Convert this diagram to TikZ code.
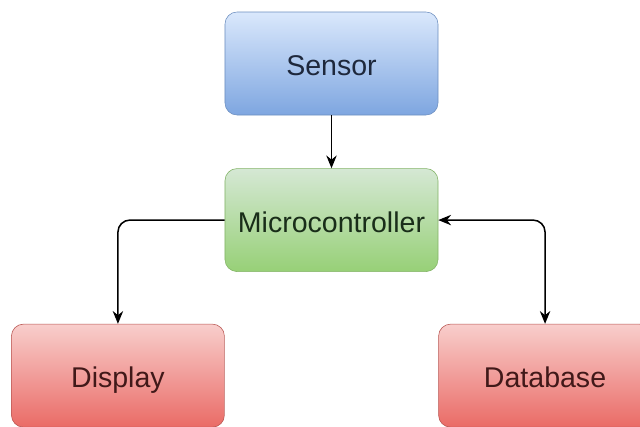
\documentclass[tikz,border=0pt]{standalone}
\usepackage{fontspec}
\setmainfont{Liberation Sans}
\usepackage{tikz}
\usetikzlibrary{positioning}
\usetikzlibrary{arrows.meta}
\definecolor{bluetxt}{RGB}{30, 40, 60}
\definecolor{greentxt}{RGB}{25, 45, 25}
\definecolor{redtxt}{RGB}{65, 25, 25}
\definecolor{bluetop}{RGB}{218, 232, 252}
\definecolor{bluebot}{RGB}{126, 166, 224}
\definecolor{blueline}{RGB}{108, 142, 191}
\definecolor{greentop}{RGB}{213, 232, 212}
\definecolor{greenbot}{RGB}{151, 208, 119}
\definecolor{greenline}{RGB}{130, 179, 102}
\definecolor{redtop}{RGB}{248, 206, 204}
\definecolor{redbot}{RGB}{234, 107, 102}
\definecolor{redline}{RGB}{184, 84, 80}
\tikzset{
  block/.style={rectangle, rounded corners=0.3cm, minimum width=5.325cm,
    minimum height=2.575cm, font=\fontsize{20.3}{24}\selectfont,
    text height=17.5pt, text depth=0pt},
  bluebox/.style={block, draw=blueline, top color=bluetop, bottom color=bluebot, text=bluetxt},
  greenbox/.style={block, draw=greenline, top color=greentop, bottom color=greenbot, text=greentxt},
  redbox/.style={block, draw=redline, top color=redtop, bottom color=redbot, text=redtxt},
  link/.style={line width=1.1pt, rounded corners=0.3cm, -{Stealth[length=0.32cm, width=0.26cm]}}
}

\begin{document}
\begin{tikzpicture}[node distance=1.325cm]
        \clip (-8.2875,1.5875) rectangle (7.7125,-9.0625);
        \node[bluebox]                 (sensor) {Sensor};
        \node[greenbox,below=of sensor] (micro) {Microcontroller};
        \node[redbox,below left=1.3cm and 0cm of micro]  (display) {Display};
        \node[redbox,below right=1.3cm and 0cm of micro] (database) {Database};

        \draw[link] (sensor) -- (micro);
        \draw[link] (micro.west) -| (display.north);
        \draw[link,{Stealth[length=0.32cm, width=0.26cm]}-{Stealth[length=0.32cm, width=0.26cm]}] (micro.east) -| (database.north);
      \end{tikzpicture}
\end{document}
